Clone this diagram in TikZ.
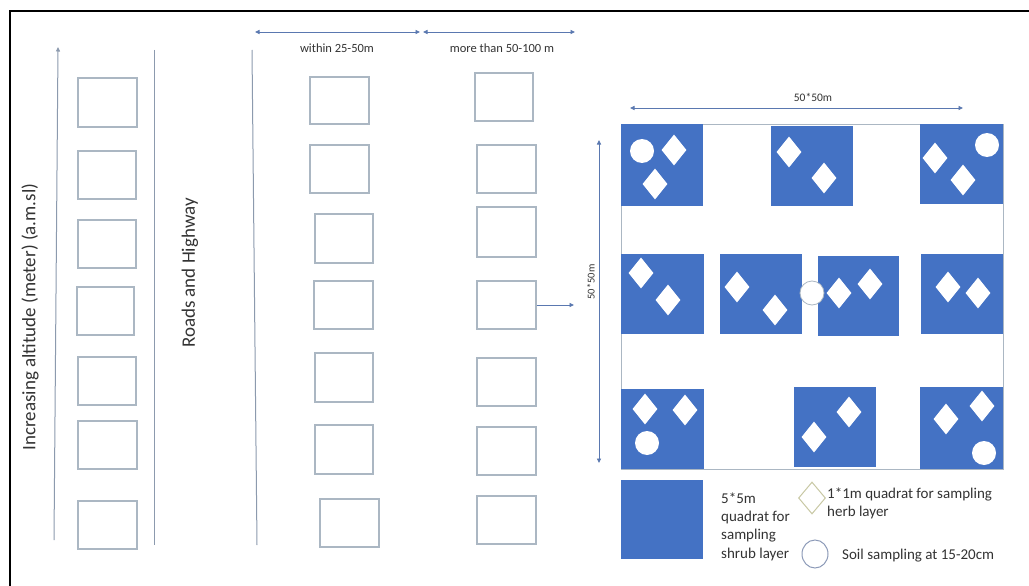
\documentclass[tikz,border=0pt]{standalone}
\usepackage{fontspec}
\setmainfont{Carlito}
\usetikzlibrary{shapes.geometric,arrows.meta}
\definecolor{qblue}{HTML}{4472C4}
\definecolor{arrowblue}{HTML}{5A78B0}
\definecolor{boxgrey}{HTML}{ABB7C3}
\definecolor{linegrey}{HTML}{8C9AAE}
\definecolor{txt}{HTML}{333333}
\definecolor{herbline}{HTML}{C8C8A4}
\definecolor{soilline}{HTML}{8C9AB8}
\newcommand\rbox[6][emptybox]{\node[#1, minimum width={(#5-#3)*1pt}, minimum height={(#6-#4)*1pt}] (#2) at ({(#3+#5)/2},{(#4+#6)/2}) {};}
\begin{document}
\begin{tikzpicture}[x=1pt,y=-1pt,
  emptybox/.style={rectangle, draw=boxgrey, line width=1.1pt, inner sep=0pt},
  shrub/.style={rectangle, fill=qblue, draw=none, inner sep=0pt},
  plot/.style={rectangle, draw=boxgrey, line width=0.8pt, inner sep=0pt},
  herbq/.style={diamond, fill=white, draw=none, inner sep=0pt, minimum width=25pt, minimum height=31pt},
  soil/.style={circle, fill=white, draw=none, inner sep=0pt, minimum size=24pt},
  guide/.style={draw=linegrey, line width=1pt},
  tipa/.tip={Triangle[length=4.5pt,width=4pt]},
  dimarrow/.style={draw=arrowblue, line width=0.9pt, tipa-tipa},
  onearrow/.style={draw=arrowblue, line width=0.9pt, -tipa},
  lbl/.style={text=txt, inner sep=0pt},
]
\useasboundingbox (0,0) rectangle (1029,586);
\fill[white] (0,0) rectangle (1029,586);
% frame
\draw[black, line width=1.6pt] (10,586) -- (10,11) -- (1029,11);

% left guide lines
\coordinate (altbot) at (54,540);
\coordinate (alttop) at (58,47);
\draw[guide, -tipa] (altbot) -- (alttop);
\coordinate (roadtop) at (154,50);
\coordinate (roadbot) at (154,545);
\draw[guide] (roadtop) -- (roadbot);
\coordinate (edgetop) at (252,50);
\coordinate (edgebot) at (257,545);
\draw[guide] (edgetop) -- (edgebot);

\node[lbl, rotate=90, font=\fontsize{19}{23}\selectfont] (alttext) at (30,317) {Increasing altitude (meter) (a.m.sl)};
\node[lbl, rotate=90, font=\fontsize{19}{23}\selectfont] (roadtext) at (190,273) {Roads and Highway};

% column 1
\rbox{a1}{78}{78}{137}{127}
\rbox{a2}{78}{151}{136}{199}
\rbox{a3}{78}{220}{136}{268}
\rbox{a4}{77}{287}{134}{335}
\rbox{a5}{78}{357}{136}{405}
\rbox{a6}{78}{421}{137}{469}
\rbox{a7}{78}{501}{137}{549}
% column 2
\rbox{b1}{310}{77}{369}{124}
\rbox{b2}{310}{145}{369}{193}
\rbox{b3}{315}{214}{373}{263}
\rbox{b4}{314}{281}{373}{329}
\rbox{b5}{315}{353}{373}{402}
\rbox{b6}{315}{425}{373}{474}
\rbox{b7}{320}{499}{379}{547}
% column 3
\rbox{c1}{475}{73}{533}{121}
\rbox{c2}{477}{145}{536}{193}
\rbox{c3}{477}{207}{536}{257}
\rbox{c4}{477}{281}{536}{329}
\rbox{c5}{477}{358}{536}{406}
\rbox{c6}{477}{427}{536}{475}
\rbox{c7}{477}{496}{536}{544}

% distance arrows
\coordinate (d1l) at (255,32);
\coordinate (d1r) at (420,32);
\coordinate (d2l) at (423,32);
\coordinate (d2r) at (575,32);
\draw[dimarrow] (d1l) -- (d1r);
\draw[dimarrow] (d2l) -- (d2r);
\node[lbl, font=\fontsize{12.5}{15}\selectfont] (within) at (337,48) {within 25-50m};
\node[lbl, font=\fontsize{12.5}{15}\selectfont] (more) at (502,48) {more than 50-100 m};

% pointer to plot
\coordinate (plotin) at (574,305);
\draw[onearrow] (c4.east |- plotin) -- (plotin);

% plot
\rbox[plot]{plot}{621}{124}{1003}{469}
\coordinate (htl) at (630,108);
\coordinate (htr) at (963,108);
\draw[dimarrow] (htl) -- (htr);
\node[lbl, font=\fontsize{11.5}{14}\selectfont] (hlab) at (813,97) {50*50m};
\coordinate (vtt) at (599,140);
\coordinate (vtb) at (599,463);
\draw[dimarrow] (vtt) -- (vtb);
\node[lbl, rotate=90, font=\fontsize{10.5}{13}\selectfont] (vlab) at (591,282) {50*50m};

% shrub quadrats
\rbox[shrub]{qA}{621}{124}{703}{206}
\rbox[shrub]{qB}{771}{126}{853}{206}
\rbox[shrub]{qC}{920}{124}{1003}{204}
\rbox[shrub]{qD}{621}{254}{704}{334}
\rbox[shrub]{qE}{720}{254}{802}{334}
\rbox[shrub]{qF}{818}{256}{899}{336}
\rbox[shrub]{qG}{921}{254}{1003}{334}
\rbox[shrub]{qH}{621}{389}{704}{469}
\rbox[shrub]{qI}{794}{387}{876}{467}
\rbox[shrub]{qJ}{920}{387}{1003}{469}

% herb quadrats
\node[herbq] (hA1) at (674,150) {};
\node[herbq] (hA2) at (655,184) {};
\node[soil]  (sA)  at (642,151) {};
\node[herbq] (hB1) at (789,152) {};
\node[herbq] (hB2) at (824,178) {};
\node[soil]  (sC)  at (987,145) {};
\node[herbq] (hC1) at (935,158) {};
\node[herbq] (hC2) at (963,180) {};
\node[herbq] (hD1) at (641,273) {};
\node[herbq] (hD2) at (668,300) {};
\node[herbq] (hE1) at (737,287) {};
\node[herbq] (hE2) at (775,310) {};
\node[soil, draw=boxgrey, line width=0.8pt] (sEF) at (812,293) {};
\node[herbq] (hF1) at (839,293) {};
\node[herbq] (hF2) at (870,284) {};
\node[herbq] (hG1) at (948,287) {};
\node[herbq] (hG2) at (978,293) {};
\node[herbq] (hH1) at (645,409) {};
\node[herbq] (hH2) at (685,410) {};
\node[soil]  (sH)  at (647,443) {};
\node[herbq] (hI1) at (814,437) {};
\node[herbq] (hI2) at (849,412) {};
\node[herbq] (hJ1) at (946,419) {};
\node[herbq] (hJ2) at (982,406) {};
\node[soil]  (sJ)  at (984,453) {};

% legend
\rbox[shrub]{legshrub}{621}{480}{703}{559}
\node[lbl, anchor=north west, align=left, font=\fontsize{15}{18.3}\selectfont] (legshrubtext) at (721,492.5) {5*5m\\quadrat for\\sampling\\shrub layer};
\node[diamond, draw=herbline, line width=1pt, fill=white, inner sep=0pt, minimum width=27pt, minimum height=32pt] (legherb) at (812,498) {};
\node[lbl, anchor=north west, align=left, font=\fontsize{15}{18.3}\selectfont] (legherbtext) at (827,487.5) {1*1m quadrat for sampling\\herb layer};
\node[ellipse, draw=soilline, line width=1pt, fill=white, inner sep=0pt, minimum width=26pt, minimum height=28pt] (legsoil) at (815,554) {};
\node[lbl, anchor=base west, font=\fontsize{15}{18}\selectfont] (legsoiltext) at (842,559) {Soil sampling at 15-20cm};
\end{tikzpicture}
\end{document}
